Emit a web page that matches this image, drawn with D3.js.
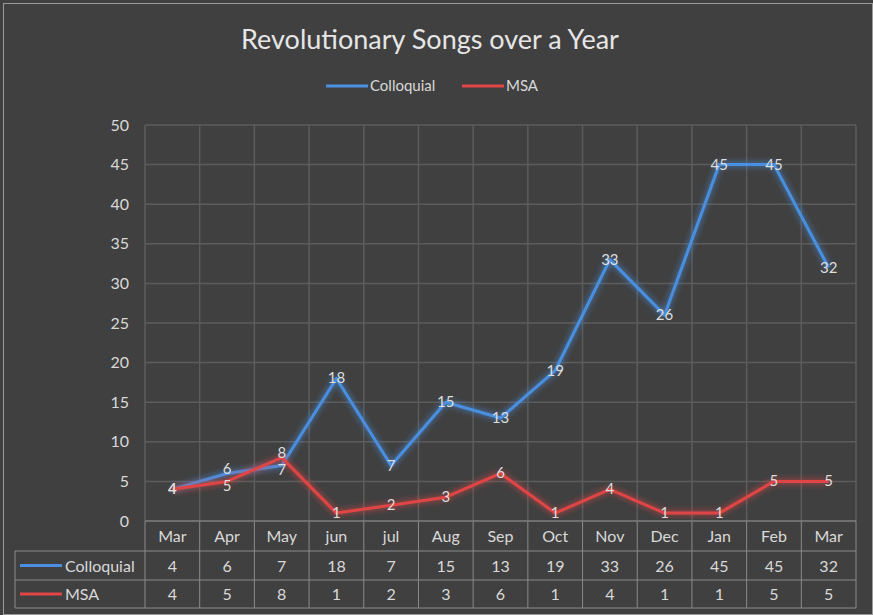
<!DOCTYPE html>
<html><head><meta charset="utf-8">
<script src="https://cdn.jsdelivr.net/npm/d3@7"></script>
<style>body{margin:0;background:#fff}svg{display:block}</style>
</head><body>
<svg id="c" width="873" height="615"></svg>
<script>
const months = ["Mar","Apr","May","jun","jul","Aug","Sep","Oct","Nov","Dec","Jan","Feb","Mar"];
const colloquial = [4,6,7,18,7,15,13,19,33,26,45,45,32];
const msa = [4,5,8,1,2,3,6,1,4,1,1,5,5];
const yTicks = [0,5,10,15,20,25,30,35,40,45,50];
const seriesNames = ["Colloquial","MSA"];
const colors = ["#4a8fe0","#e04545"];

(function(){
const svg = d3.select("#c");
const W=873,H=615;
const font = "Lato, sans-serif";
svg.append("rect").attr("x",0).attr("y",0).attr("width",W).attr("height",H).attr("fill","#404040");
svg.append("rect").attr("x",3.5).attr("y",3.5).attr("width",W-4).attr("height",H-4).attr("fill","none").attr("stroke","#9a9a9a");

const defs = svg.append("defs");
colors.forEach((c,i)=>{
  const f = defs.append("filter").attr("id","glow"+i).attr("x","-10%").attr("y","-10%").attr("width","120%").attr("height","120%");
  f.append("feGaussianBlur").attr("in","SourceGraphic").attr("stdDeviation",3).attr("result","b");
  const m=f.append("feMerge"); m.append("feMergeNode").attr("in","b"); m.append("feMergeNode").attr("in","SourceGraphic");
});

const pL=145, pR=856, pT=125, pB=521;
const x = d3.scaleBand().domain(d3.range(months.length)).range([pL,pR]);
const y = d3.scaleLinear().domain([0,50]).range([pB,pT]);
const grid = "#5c5c5c";

svg.append("g").selectAll("line").data(yTicks).join("line")
  .attr("x1",pL).attr("x2",pR).attr("y1",d=>y(d)).attr("y2",d=>y(d))
  .attr("stroke",grid).attr("stroke-width",1.5);
const bounds = d3.range(months.length+1).map(i=> i<months.length ? x(i) : pR);
svg.append("g").selectAll("line").data(bounds).join("line")
  .attr("x1",d=>d).attr("x2",d=>d).attr("y1",pT).attr("y2",pB)
  .attr("stroke",grid).attr("stroke-width",1.5);

const yAxis = d3.axisLeft(y).tickValues(yTicks).tickSize(0).tickPadding(16);
const ya = svg.append("g").attr("transform",`translate(${pL},0)`).call(yAxis);
ya.select(".domain").remove();
ya.selectAll("text").attr("fill","#d9d9d9").style("font-size","16px").style("font-family",font);

svg.append("text").attr("x",430).attr("y",49).attr("text-anchor","middle").attr("fill","#e6e6e6")
  .style("font-size","27px").style("font-family",font).text("Revolutionary Songs over a Year");

const leg = [{x:326},{x:462}];
seriesNames.forEach((n,i)=>{
  svg.append("line").attr("x1",leg[i].x).attr("x2",leg[i].x+42).attr("y1",86).attr("y2",86)
    .attr("stroke",colors[i]).attr("stroke-width",3);
  svg.append("text").attr("x",leg[i].x+44).attr("y",91).attr("fill","#d9d9d9")
    .style("font-size","15px").style("font-family",font).text(n);
});

const data=[colloquial,msa];
const cx = i=> x(i)+x.bandwidth()/2;
const line = d3.line().x((d,i)=>cx(i)).y(d=>y(d));
data.forEach((s,k)=>{
  svg.append("path").datum(s).attr("d",line).attr("fill","none").attr("stroke",colors[k])
    .attr("stroke-width",3).attr("stroke-linejoin","round").attr("filter",`url(#glow${k})`);
});
// nudge near-coincident labels apart slightly
const nudge = (k,i)=>{
  const a=data[k][i], b=data[1-k][i];
  if (a!==b && Math.abs(a-b)<=2) return a>b ? -4.5 : 4.5;
  return 0;
};
data.forEach((s,k)=>{
  svg.append("g").selectAll("text").data(s).join("text")
    .attr("x",(d,i)=>cx(i)).attr("y",(d,i)=>y(d)+5+nudge(k,i)).attr("text-anchor","middle")
    .attr("fill","#dedede").style("font-size","15px").style("font-family",font).text(d=>d);
});

const rowH=[521,551,580,608];
const tcol="#8a8a8a";
const tleft=15;
svg.append("line").attr("x1",pL).attr("x2",pR).attr("y1",rowH[0]).attr("y2",rowH[0]).attr("stroke",tcol);
[rowH[1],rowH[2],rowH[3]].forEach(yy=>{
  svg.append("line").attr("x1",tleft).attr("x2",pR).attr("y1",yy).attr("y2",yy).attr("stroke",tcol);
});
bounds.forEach(bx=>{
  svg.append("line").attr("x1",bx).attr("x2",bx).attr("y1",rowH[0]).attr("y2",rowH[3]).attr("stroke",tcol);
});
svg.append("line").attr("x1",tleft).attr("x2",tleft).attr("y1",rowH[1]).attr("y2",rowH[3]).attr("stroke",tcol);

svg.append("g").selectAll("text").data(months).join("text")
  .attr("x",(d,i)=>cx(i)).attr("y",(rowH[0]+rowH[1])/2+6).attr("text-anchor","middle")
  .attr("fill","#d9d9d9").style("font-size","16px").style("font-family",font).text(d=>d);
data.forEach((s,k)=>{
  const ym=(rowH[k+1]+rowH[k+2])/2;
  svg.append("g").selectAll("text").data(s).join("text")
    .attr("x",(d,i)=>cx(i)).attr("y",ym+6).attr("text-anchor","middle")
    .attr("fill","#d9d9d9").style("font-size","16px").style("font-family",font).text(d=>d);
  svg.append("line").attr("x1",20).attr("x2",62).attr("y1",ym).attr("y2",ym).attr("stroke",colors[k]).attr("stroke-width",3);
  svg.append("text").attr("x",65).attr("y",ym+6).attr("fill","#d9d9d9")
    .style("font-size","16px").style("font-family",font).text(seriesNames[k]);
});
})();
</script>
</body></html>
